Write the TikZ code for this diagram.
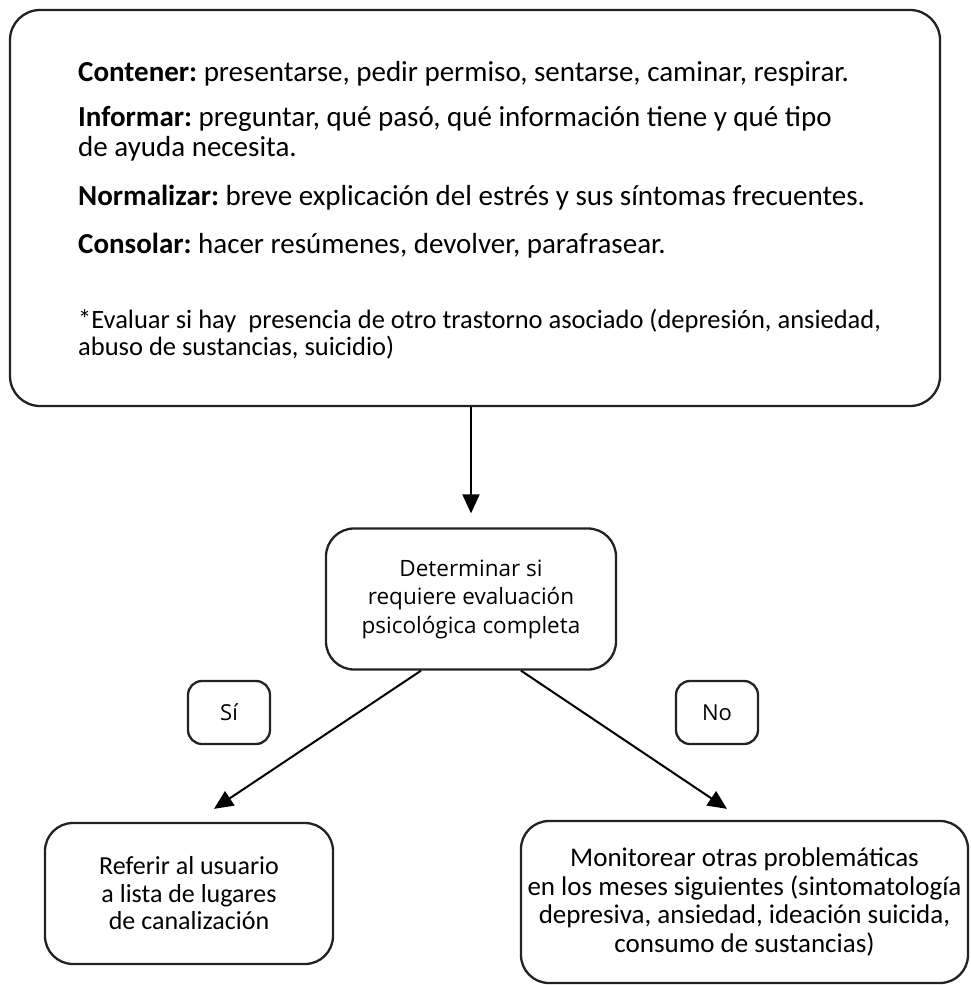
\documentclass[tikz,border=0pt]{standalone}
\usepackage{fontspec}
\setmainfont{Carlito}
\newfontfamily\osans{Open Sans}
\usetikzlibrary{arrows.meta,calc}
\frenchspacing
\definecolor{boxline}{HTML}{222222}
\tikzset{
  box/.style={draw=boxline, line width=2.3pt, fill=white, inner sep=0pt},
  arr/.style={draw=black, line width=2pt, -{Triangle[length=19pt,width=17pt]}},
  toptext/.style={anchor=base west, inner sep=0pt, font=\fontsize{29}{30}\selectfont},
  notetext/.style={anchor=base west, inner sep=0pt, font=\fontsize{26.5}{27}\selectfont},
}
\begin{document}
\begin{tikzpicture}[x=1pt,y=-1pt]
\useasboundingbox (0,0) rectangle (971,985);
% top box
\node[box, rounded corners=30pt, minimum width=930pt, minimum height=396pt] (top) at (475,208) {};
\node[toptext] (t1) at (78,81) {\textbf{Contener:} presentarse, pedir permiso, sentarse, caminar, respirar.};
\node[toptext] (t2) at (78,126) {\textbf{Informar:} preguntar, qué pasó, qué información tiene y qué tipo};
\node[toptext] (t3) at (78,156) {de ayuda necesita.};
\node[toptext] (t4) at (78,205) {\textbf{Normalizar:} breve explicación del estrés y sus síntomas frecuentes.};
\node[toptext] (t5) at (78,253) {\textbf{Consolar:} hacer resúmenes, devolver, parafrasear.};
\node[notetext] (t6) at (78,328) {*Evaluar si hay \ presencia de otro trastorno asociado (depresión, ansiedad,};
\node[notetext] (t7) at (78,355) {abuso de sustancias, suicidio)};
% middle box
\node[box, rounded corners=28pt, minimum width=290pt, minimum height=141pt,
      align=center, font=\osans\fontsize{22.5}{28.5}\selectfont] (mid) at (471,599)
  {Determinar si\\requiere evaluación\\psicológica completa};
% yes / no labels
\node[box, rounded corners=14pt, minimum width=82pt, minimum height=63pt,
      font=\osans\fontsize{22}{26}\selectfont] (si) at (229,712.5) {Sí};
\node[box, rounded corners=14pt, minimum width=82pt, minimum height=63pt,
      font=\osans\fontsize{22}{26}\selectfont] (no) at (717,712.5) {No};
% bottom boxes
\node[box, rounded corners=28pt, minimum width=288pt, minimum height=141pt,
      align=center, font=\fontsize{26}{27.5}\selectfont] (lbox) at (189,893.5)
  {Referir al usuario\\a lista de lugares\\de canalización};
\node[box, rounded corners=28pt, minimum width=447pt, minimum height=162pt,
      align=center, font=\fontsize{27}{28.5}\selectfont] (rbox) at (744.5,902)
  {Monitorear otras problemáticas\\en los meses siguientes (sintomatología\\depresiva, ansiedad, ideación suicida,\\consumo de sustancias)};
% connectors
\draw[arr, shorten >=14pt] (mid.north |- top.south) -- (mid.north);
\coordinate (ltip) at ($(lbox.north)+(25,-13)$);
\coordinate (rtip) at ($(rbox.north)+(-17.5,-11)$);
\draw[arr] ($(mid.south)+(-50,0)$) -- (ltip);
\draw[arr] ($(mid.south)+(50,0)$) -- (rtip);
\end{tikzpicture}
\end{document}
